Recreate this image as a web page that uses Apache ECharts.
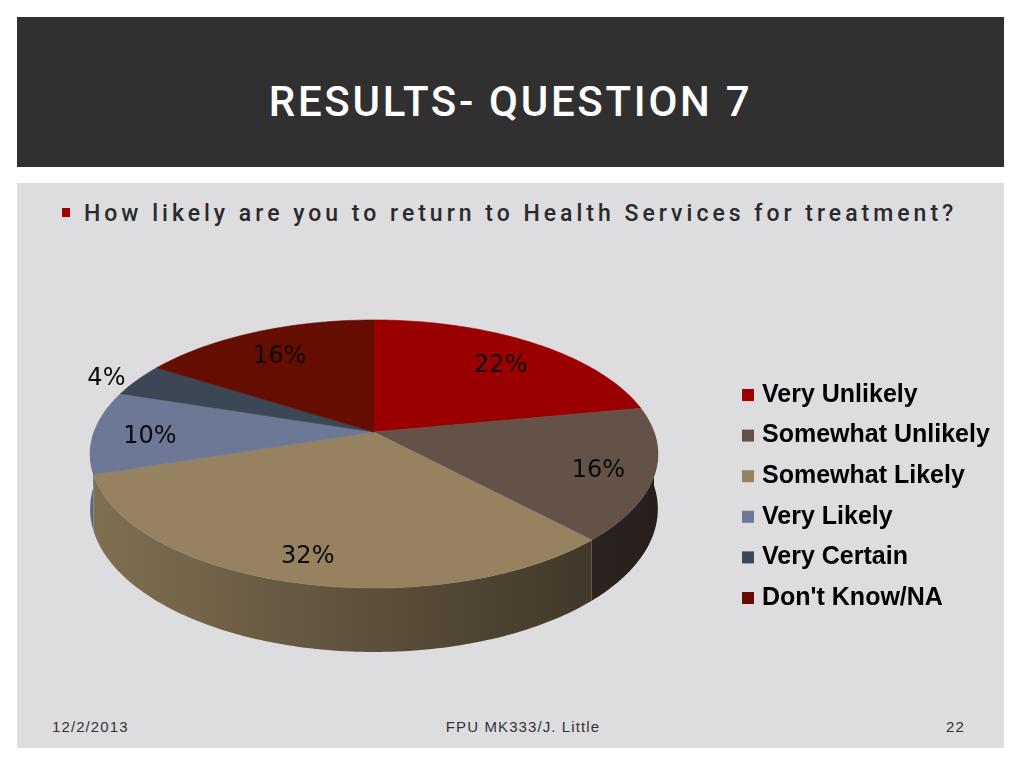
<!DOCTYPE html>
<html>
<head>
<meta charset="utf-8">
<script src="https://cdn.jsdelivr.net/npm/echarts@6/dist/echarts.min.js"></script>
<style>
  body { margin: 0; width: 1024px; height: 768px; background: #fff; position: relative; overflow: hidden; font-family: "Liberation Sans", sans-serif; }
  #head { position: absolute; left: 17px; top: 17px; width: 987px; height: 150px; background: #303030; }
  #title { position: absolute; left: 17px; top: 17px; width: 987px; height: 170px; line-height: 170px; text-align: center; color: #fff; font-family: Roboto, "Liberation Sans", sans-serif; font-weight: 500; font-size: 42px; letter-spacing: 2.7px; }
  #panel { position: absolute; left: 17px; top: 183px; width: 987px; height: 565px; background: #dddde0; }
  #dot { position: absolute; left: 62px; top: 208px; width: 8px; height: 9px; background: #a00000; }
  #bullet { position: absolute; left: 84px; top: 200px; font-family: Roboto, "Liberation Sans", sans-serif; font-weight: 500; font-size: 23px; letter-spacing: 4px; color: #2a2a2a; white-space: nowrap; }
  .foot { position: absolute; top: 718px; font-size: 15px; color: #333; letter-spacing: 1.1px; white-space: nowrap; }
  #chart { position: absolute; left: 0; top: 0; width: 1024px; height: 768px; }
</style>
</head>
<body>
<div id="head"></div>
<div id="title">RESULTS- QUESTION 7</div>
<div id="panel"></div>
<div id="dot"></div>
<div id="bullet">How likely are you to return to Health Services for treatment?</div>
<div class="foot" style="left:52px">12/2/2013</div>
<div class="foot" style="left:400px;width:246px;text-align:center">FPU MK333/J. Little</div>
<div class="foot" style="left:946px">22</div>
<div id="chart"></div>
<script>
const categories = ["Very Unlikely", "Somewhat Unlikely", "Somewhat Likely", "Very Likely", "Very Certain", "Don't Know/NA"];
const values = [22, 16, 32, 10, 4, 16];
const colors = ["#9b0000", "#645147", "#968260", "#6c7895", "#3b4755", "#660d02"];

// 3d pie look: ellipse with a bit of perspective
const cx = 374, cy = 432, rx = 280, ry = 130.4, persp = 0.164, depth = 53.5;
const total = values.reduce((a, b) => a + b, 0);
const startAngles = [];
let acc = -90;
values.forEach(v => { startAngles.push(acc); acc += v / total * 360; });

function pt(deg, down, f) {
  f = f == null ? 1 : f;
  const t = deg * Math.PI / 180;
  const s = 1 / (1 - persp * Math.sin(t));
  return [cx + rx * Math.cos(t) * s * f, cy + ry * Math.sin(t) * s * f + depth * s * down];
}
function shade(hex, f) {
  const n = parseInt(hex.slice(1), 16);
  const r = Math.round(((n >> 16) & 255) * f), g = Math.round(((n >> 8) & 255) * f), b = Math.round((n & 255) * f);
  return "rgb(" + r + "," + g + "," + b + ")";
}

const myChart = echarts.init(document.getElementById("chart"));

const series = categories.map((name, i) => ({
  name: name,
  type: "custom",
  coordinateSystem: "none",
  silent: true,
  itemStyle: { color: colors[i] },
  data: [values[i]],
  renderItem: (params, api) => {
    const v = api.value(0);
    const a = startAngles[i], b = a + v / total * 360;
    const children = [];
    // top face
    const top = [[cx, cy]];
    for (let d = a; d < b; d += 1) top.push(pt(d, 0));
    top.push(pt(b, 0));
    children.push({
      type: "polygon", z2: 100,
      shape: { points: top },
      style: { fill: colors[i], stroke: colors[i], lineWidth: 0.6 }
    });
    // side face, only the front half is seen
    const s0 = Math.max(a, 0), s1 = Math.min(b, 180);
    if (s1 > s0) {
      const side = [];
      for (let d = s0; d < s1; d += 1) side.push(pt(d, 0));
      side.push(pt(s1, 0));
      for (let d = s1; d > s0; d -= 1) side.push(pt(d, 1));
      side.push(pt(s0, 1));
      children.push({
        type: "polygon", z2: 10,
        shape: { points: side },
        style: {
          fill: {
            type: "linear", x: cx - rx, y: 0, x2: cx + rx, y2: 0, global: true,
            colorStops: [{ offset: 0, color: shade(colors[i], 0.85) }, { offset: 1, color: shade(colors[i], 0.38) }]
          }
        }
      });
    }
    // percent label, small slices go outside
    const m = (a + b) / 2;
    const lp = pt(m, 0, v / total < 0.05 ? 1.13 : 0.8);
    children.push({
      type: "text", z2: 200, x: lp[0], y: lp[1] + 5,
      style: {
        text: Math.round(v / total * 100) + "%",
        align: "center", verticalAlign: "middle",
        fill: "#0a0a0a", fontSize: 24, fontFamily: "DejaVu Sans"
      }
    });
    return { type: "group", children: children };
  }
}));

myChart.setOption({
  animation: false,
  backgroundColor: "transparent",
  legend: {
    orient: "vertical",
    left: 737,
    top: 377,
    icon: "rect",
    itemWidth: 12,
    itemHeight: 12,
    itemGap: 14.6,
    selectedMode: false,
    data: categories.map((c, i) => ({ name: c, itemStyle: { color: colors[i] } })),
    textStyle: { fontFamily: "Liberation Sans", fontWeight: "bold", fontSize: 25, lineHeight: 26, color: "#000", padding: [0, 0, 0, 3] }
  },
  series: series
});
</script>
</body>
</html>
